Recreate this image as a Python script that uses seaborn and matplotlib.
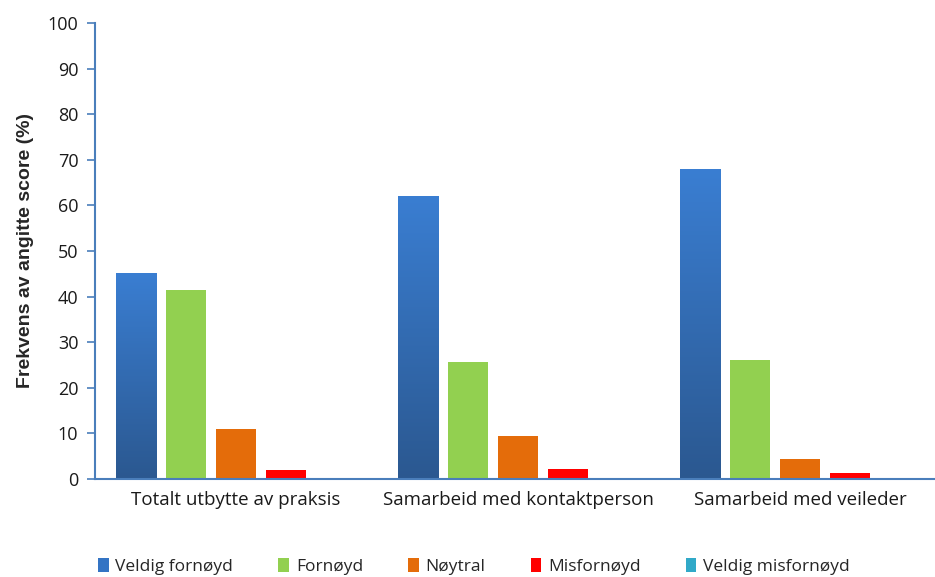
import numpy as np
import pandas as pd
import matplotlib
matplotlib.use("Agg")
import matplotlib.pyplot as plt
from matplotlib.colors import LinearSegmentedColormap
from matplotlib.patches import Patch
import seaborn as sns

categories = ["Totalt utbytte av praksis", "Samarbeid med kontaktperson", "Samarbeid med veileder"]
series = ["Veldig fornøyd", "Fornøyd", "Nøytral", "Misfornøyd", "Veldig misfornøyd"]
veldig_fornoyd = [45.2, 62.1, 67.9]
fornoyd = [41.4, 25.7, 26.1]
noytral = [10.9, 9.4, 4.3]
misfornoyd = [2.0, 2.2, 1.3]
veldig_misfornoyd = [0.0, 0.0, 0.0]
colors = ["#3474C4", "#92D050", "#E46C0A", "#FF0000", "#31A9C8"]

values = [veldig_fornoyd, fornoyd, noytral, misfornoyd, veldig_misfornoyd]
df = pd.DataFrame(
    [(c, s, v) for s, vals in zip(series, values) for c, v in zip(categories, vals)],
    columns=["kategori", "score", "prosent"],
)

sns.set_theme(style="white")
plt.rcParams["font.family"] = ["Open Sans", "DejaVu Sans"]

fig = plt.figure(figsize=(9.35, 5.77), dpi=100)
ax = fig.add_axes([0.1016, 0.170, 0.905, 0.790])

sns.barplot(data=df, x="kategori", y="prosent", hue="score", order=categories,
            hue_order=series, palette=colors, width=0.89, saturation=1,
            legend=False, ax=ax, linewidth=0)

# Narrow each bar so there is a small gap between neighbours in a group
for p in ax.patches:
    w = p.get_width()
    p.set_x(p.get_x() + w * 0.1)
    p.set_width(w * 0.8)

# Vertical gradient on the "Veldig fornøyd" bars
grad = LinearSegmentedColormap.from_list("blaa", ["#2B5890", "#3A7ED2"])
blue_bars = ax.containers[0]
for p in blue_bars:
    x0, y0 = p.get_x(), p.get_y()
    x1, y1 = x0 + p.get_width(), y0 + p.get_height()
    if y1 - y0 <= 0:
        continue
    img = ax.imshow(np.linspace(0, 1, 256).reshape(-1, 1), cmap=grad, origin="lower",
                    extent=[x0, x1, y0, y1], aspect="auto", zorder=p.get_zorder() + 0.1)
    img.set_clip_path(p)

ax.set_xlim(-0.5, 2.5)
ax.set_ylim(0, 100)
ax.set_yticks(range(0, 101, 10))
ax.set_xticks([0, 1, 2])
ax.set_xticklabels(categories, fontsize=13.5, color="#1a1a1a")
ax.set_xticks([-0.5, 0.5, 1.5, 2.5], minor=True)
ax.tick_params(axis="x", which="major", length=0, pad=9)
ax.tick_params(axis="x", which="minor", length=6, width=1.2, color="#4A7EBB", direction="out")
ax.tick_params(axis="y", length=6, width=1.2, color="#4A7EBB", direction="out",
               labelsize=13, labelcolor="#1a1a1a", left=True, pad=6)
ax.set_xlabel("")
ax.set_ylabel("Frekvens av angitte score (%)", fontsize=14, fontweight="bold",
              family=["Liberation Sans", "DejaVu Sans"], labelpad=10)

for side in ["top", "right"]:
    ax.spines[side].set_visible(False)
for side in ["left", "bottom"]:
    ax.spines[side].set_color("#4A7EBB")
    ax.spines[side].set_linewidth(1.5)

handles = [Patch(facecolor=c, edgecolor="none") for c in colors]
fig.legend(handles, series, loc="center", bbox_to_anchor=(0.507, 0.018), ncol=5,
           frameon=False, fontsize=12.5, handlelength=0.6, handleheight=0.8,
           handletextpad=0.4, columnspacing=2.6)

fig.savefig("out.png", dpi=100, facecolor="white")
